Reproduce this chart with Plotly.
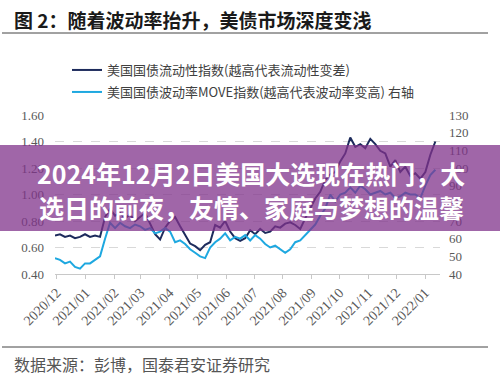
import pandas as pd
import plotly.graph_objects as go

# ---------------- data ----------------
liquidity = [0.69, 0.70, 0.68, 0.69, 0.67, 0.68, 0.70, 0.68, 0.69, 0.68,
             0.83, 0.89, 0.84, 0.86, 0.82, 0.85, 0.80, 0.83, 0.86, 0.78,
             0.70, 0.66, 0.75, 0.80, 0.83, 0.76, 0.69, 0.63, 0.61, 0.58,
             0.62, 0.64, 0.77, 0.75, 0.80, 0.72, 0.67, 0.65, 0.67, 0.73,
             0.70, 0.74, 0.71, 0.72, 0.76, 0.75, 0.78, 0.79, 0.77, 0.74,
             0.82, 0.90, 0.97, 1.02, 1.11, 1.15, 1.17, 1.25, 1.31, 1.43,
             1.36, 1.38, 1.35, 1.42, 1.38, 1.33, 1.31, 1.21, 1.26, 1.17,
             1.21, 1.14, 1.16, 1.12, 1.17, 1.30, 1.40]
move = [49, 48, 46, 47, 44, 43, 46, 46, 48, 50,
        60, 69, 66, 69, 67, 66, 68, 67, 65, 66,
        63, 64, 66, 64, 58, 59, 57, 54, 52, 50,
        49, 55, 58, 60, 63, 59, 61, 60, 62, 59,
        62, 60, 57, 55, 56, 54, 52, 54, 58, 59,
        62, 65, 68, 73, 77, 85, 81, 85, 86, 89,
        86, 90, 88, 85, 86, 87, 85, 86, 83, 84,
        86, 85, 85, 83, 90, 96, 99]
dates = pd.date_range("2020-11-29", "2022-01-12", periods=len(liquidity))

tick_dates = pd.date_range("2020-12-01", "2022-01-01", freq="MS")
tick_text = [d.strftime("%Y/%m") for d in tick_dates]

name1 = "美国国债流动性指数(越高代表流动性变差)"
name2 = "美国国债波动率MOVE指数(越高代表波动率变高) 右轴"
title_text = "图 2：随着波动率抬升，美债市场深度变浅"
source_text = "数据来源：彭博，国泰君安证券研究"
banner1 = "2024年12月2日美国大选现在热门，大"
banner2 = "选日的前夜，友情、家庭与梦想的温馨"

# ---------------- layout geometry (pixels) ----------------
W, H = 500, 380
L, R, T, B = 55, 440, 115, 274


def px(x):
    return (x - L) / (R - L)


def py(y):
    return (B - y) / (B - T)


CJK = "Noto Sans CJK SC"
SERIF = "Liberation Serif"
NAVY = "#1d2b5c"
LBLUE = "#1ea8e0"

fig = go.Figure()
fig.add_trace(go.Scatter(x=dates, y=liquidity, mode="lines", name=name1,
                         line=dict(color=NAVY, width=2), legend="legend"))
fig.add_trace(go.Scatter(x=dates, y=move, mode="lines", name=name2,
                         line=dict(color=LBLUE, width=2), yaxis="y2",
                         legend="legend2"))

fig.update_layout(
    width=W, height=H,
    margin=dict(l=L, r=W - R, t=T, b=H - B, autoexpand=False),
    paper_bgcolor="white", plot_bgcolor="white",
    xaxis=dict(type="date", range=["2020-11-29", "2022-01-17"],
               tickvals=tick_dates, ticktext=tick_text, tickangle=-45,
               tickfont=dict(family=SERIF, size=14, color="#595959"),
               showgrid=False, showline=True, linecolor="#c8c8c8",
               linewidth=1, ticks="outside", ticklen=4,
               tickcolor="#c8c8c8", zeroline=False, automargin=False),
    yaxis=dict(range=[0.40, 1.60], dtick=0.2, tickformat=".2f",
               tickfont=dict(family=SERIF, size=13, color="#595959"),
               showgrid=True, gridcolor="#d9d9d9", griddash="dash",
               gridwidth=1, zeroline=False, ticks="",
               ticklabelstandoff=10, automargin=False),
    yaxis2=dict(range=[40, 130], dtick=10, overlaying="y", side="right",
                tickfont=dict(family=SERIF, size=13, color="#595959"),
                showgrid=False, zeroline=False, ticks="",
                ticklabelstandoff=8, automargin=False),
    legend=dict(x=px(67), y=py(70), xanchor="left", yanchor="middle",
                font=dict(family=CJK, size=13, color="#404040"),
                bgcolor="rgba(0,0,0,0)", itemwidth=30),
    legend2=dict(x=px(67), y=py(92), xanchor="left", yanchor="middle",
                 font=dict(family=CJK, size=13, color="#404040"),
                 bgcolor="rgba(0,0,0,0)", itemwidth=30),
    showlegend=True,
)

# title & source
fig.add_annotation(text=title_text, xref="paper", yref="paper",
                   x=px(12), y=py(20), xanchor="left", yanchor="middle",
                   showarrow=False,
                   font=dict(family=CJK, size=19, color="#1a1a1a",
                             weight="bold"))
fig.add_annotation(text=source_text, xref="paper", yref="paper",
                   x=px(12), y=py(364), xanchor="left", yanchor="middle",
                   showarrow=False,
                   font=dict(family=CJK, size=16, color="#555555"))

# rules
for yy in (33, 347):
    fig.add_shape(type="line", xref="paper", yref="paper",
                  x0=px(2), x1=px(488), y0=py(yy), y1=py(yy),
                  line=dict(color="#444444", width=1))

# purple banner overlay
fig.add_shape(type="rect", xref="paper", yref="paper",
              x0=px(0), x1=px(W), y0=py(145), y1=py(231),
              fillcolor="#80338b", opacity=0.75, line=dict(width=0),
              layer="above")
fig.add_annotation(text=banner1, xref="paper", yref="paper",
                   x=px(251), y=py(173), xanchor="center", yanchor="middle",
                   showarrow=False,
                   font=dict(family=CJK, size=25, color="white",
                             weight="bold"))
fig.add_annotation(text=banner2, xref="paper", yref="paper",
                   x=px(252), y=py(207), xanchor="center", yanchor="middle",
                   showarrow=False,
                   font=dict(family=CJK, size=25, color="white",
                             weight="bold"))

fig.write_html(
    "out.html",
    config={"displayModeBar": False},
    post_script="document.body.style.margin='0';"
                "document.body.style.overflow='hidden';")
